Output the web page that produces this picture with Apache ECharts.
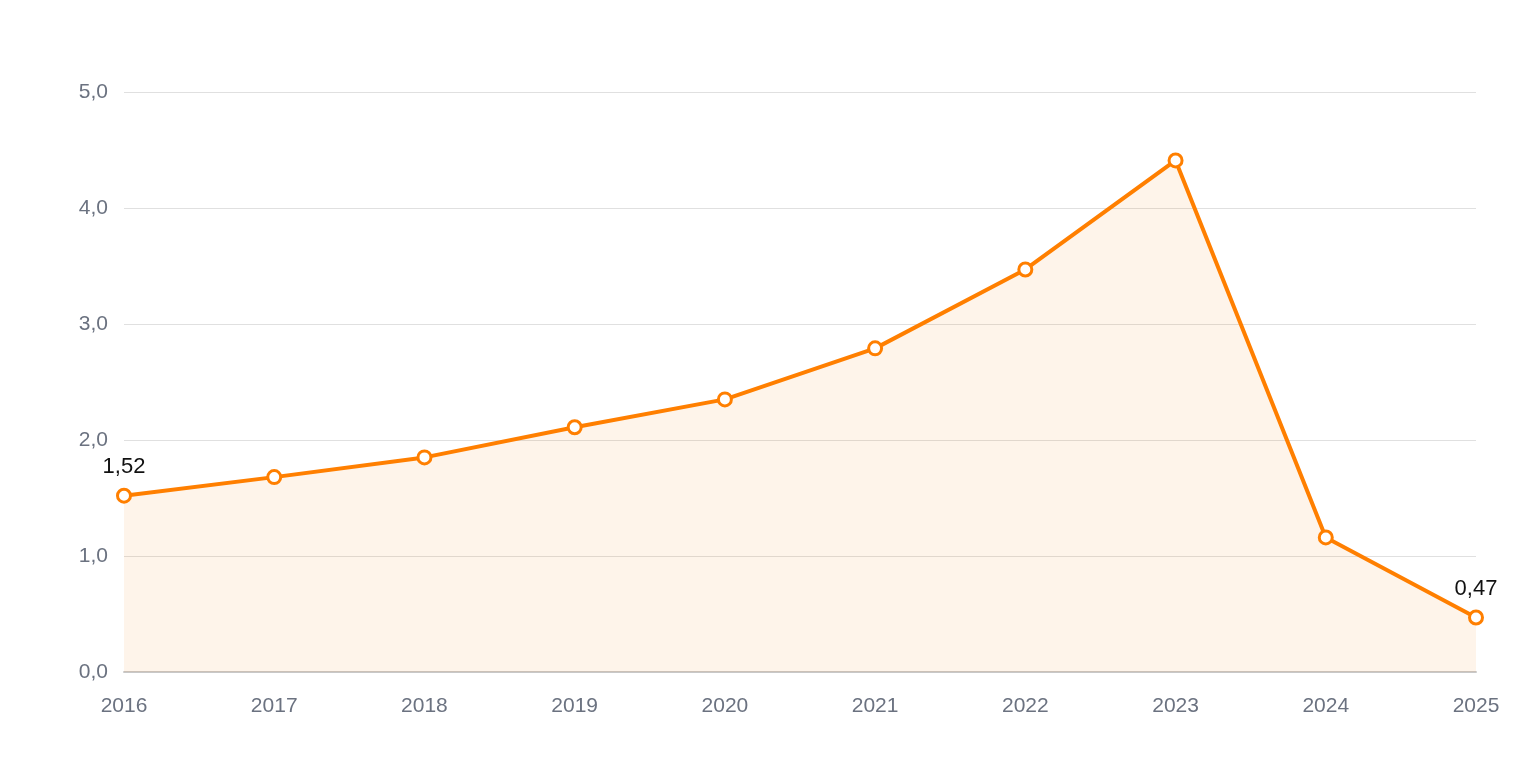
<!DOCTYPE html>
<html>
<head>
<meta charset="utf-8">
<script src="https://cdn.jsdelivr.net/npm/echarts@6/dist/echarts.min.js"></script>
<style>
  html, body { margin: 0; padding: 0; background: #fff; }
  #chart { width: 1520px; height: 760px; }
</style>
</head>
<body>
<div id="chart"></div>
<script>
// years on the x axis
const years = ['2016', '2017', '2018', '2019', '2020', '2021', '2022', '2023', '2024', '2025'];
// values
const values = [1.52, 1.68, 1.85, 2.11, 2.35, 2.79, 3.47, 4.41, 1.16, 0.47];
// only first and last point carry a label
const labelled = [0, years.length - 1];

const fmt = (v, d) => v.toFixed(d).replace('.', ',');

const chart = echarts.init(document.getElementById('chart'));

chart.setOption({
  animation: false,
  grid: { left: 124, right: 44, top: 92, bottom: 88 },
  xAxis: {
    type: 'category',
    data: years,
    boundaryGap: false,
    axisLine: { lineStyle: { color: '#c8c8c8', width: 2 } },
    axisTick: { show: false },
    axisLabel: {
      color: '#6b7280',
      fontSize: 21,
      fontFamily: 'Liberation Sans, Arial, sans-serif',
      margin: 24
    }
  },
  yAxis: {
    type: 'value',
    min: 0,
    max: 5,
    interval: 1,
    axisLine: { show: false },
    axisTick: { show: false },
    splitLine: { lineStyle: { color: '#e0e0e0', width: 1 } },
    axisLabel: {
      color: '#6b7280',
      fontSize: 21,
      fontFamily: 'Liberation Sans, Arial, sans-serif',
      margin: 16,
      formatter: v => fmt(v, 1)
    }
  },
  series: [{
    type: 'line',
    data: values,
    symbol: 'circle',
    symbolSize: 13,
    showAllSymbol: true,
    lineStyle: { color: '#ff7f00', width: 4 },
    itemStyle: { color: '#fff', borderColor: '#ff7f00', borderWidth: 3 },
    areaStyle: { color: 'rgba(245, 127, 10, 0.12)' },
    label: {
      show: true,
      position: 'top',
      distance: 10,
      color: '#111',
      fontSize: 22,
      fontFamily: 'Liberation Sans, Arial, sans-serif',
      formatter: p => labelled.includes(p.dataIndex) ? fmt(p.value, 2) : ''
    },
    z: 3
  }]
});
</script>
</body>
</html>
